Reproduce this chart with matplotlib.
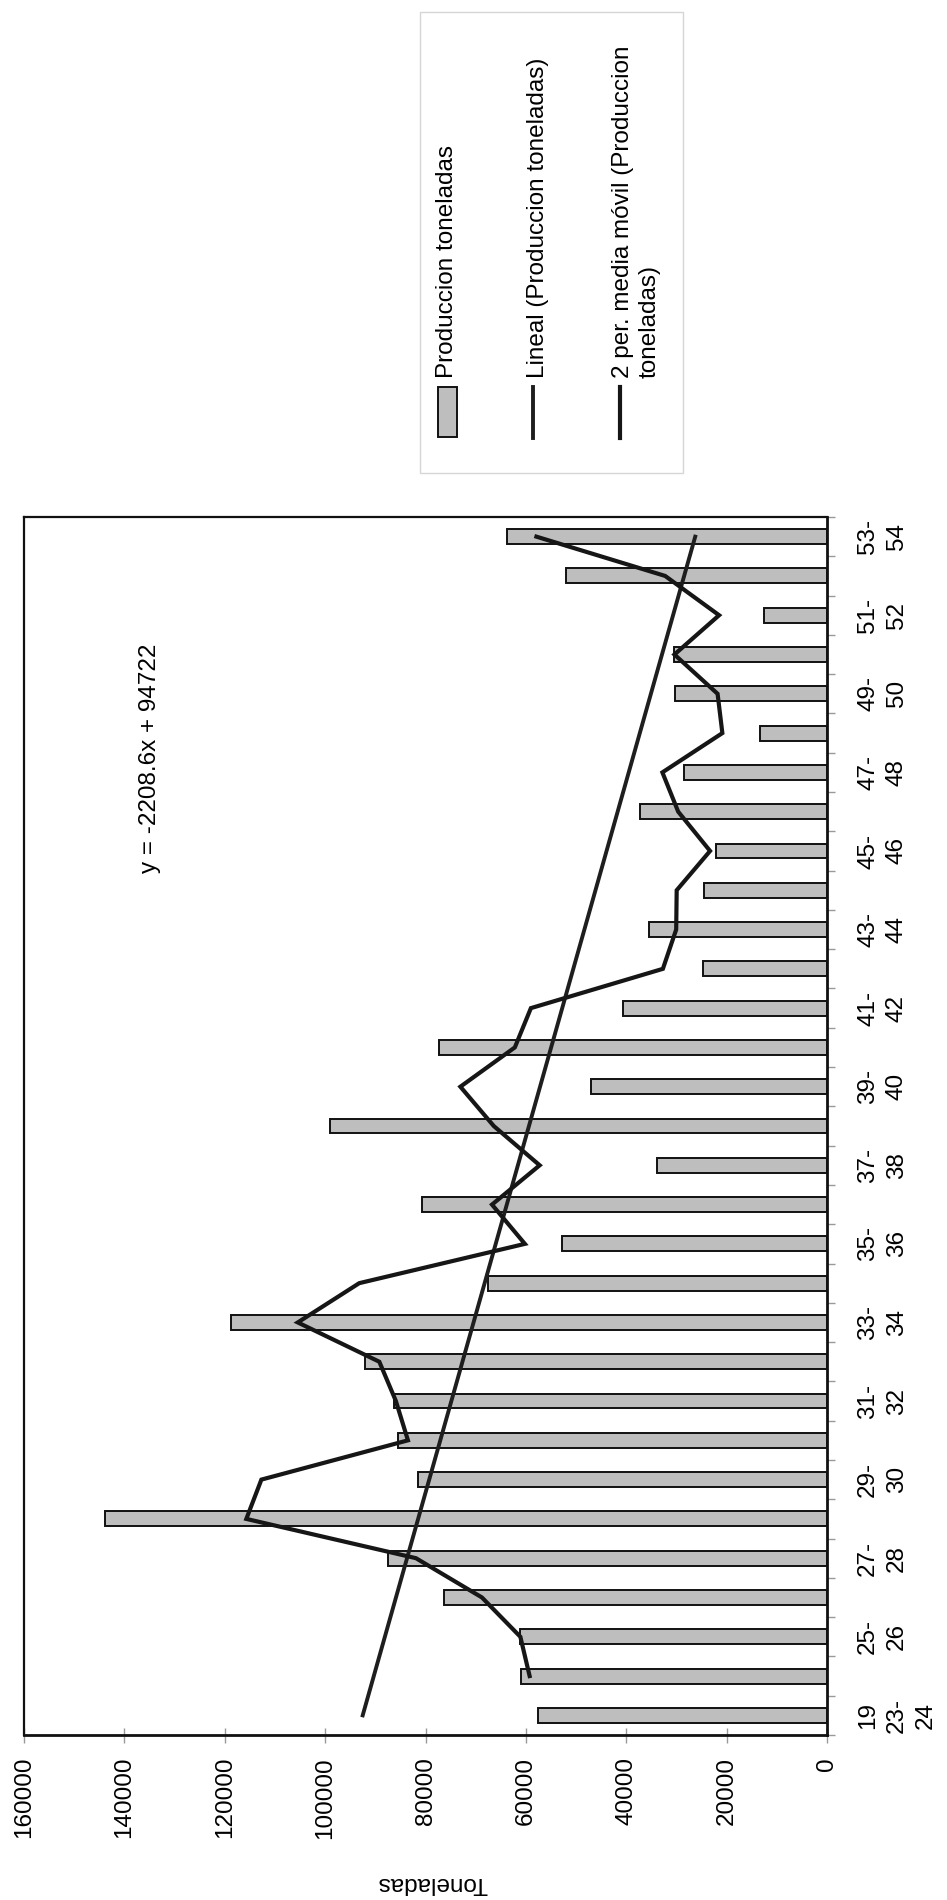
import numpy as np
import pandas as pd
import matplotlib
matplotlib.use('Agg')
import matplotlib.pyplot as plt
from matplotlib.lines import Line2D
from matplotlib.patches import Rectangle

# campañas 1923-24 ... 1953-54
campanas = ['1923-24', '1924-25', '1925-26', '1926-27', '1927-28', '1928-29', '1929-30',
            '1930-31', '1931-32', '1932-33', '1933-34', '1934-35', '1935-36', '1936-37',
            '1937-38', '1938-39', '1939-40', '1940-41', '1941-42', '1942-43', '1943-44',
            '1944-45', '1945-46', '1946-47', '1947-48', '1948-49', '1949-50', '1950-51',
            '1951-52', '1952-53', '1953-54']
etiquetas = ['19\n23-\n24', '24-\n25', '25-\n26', '26-\n27', '27-\n28', '28-\n29', '29-\n30',
             '30-\n31', '31-\n32', '32-\n33', '33-\n34', '34-\n35', '35-\n36', '36-\n37',
             '37-\n38', '38-\n39', '39-\n40', '40-\n41', '41-\n42', '42-\n43', '43-\n44',
             '44-\n45', '45-\n46', '46-\n47', '47-\n48', '48-\n49', '49-\n50', '50-\n51',
             '51-\n52', '52-\n53', '53-\n54']
produccion = [57500, 61000, 61200, 76300, 87500, 143900, 81500, 85500, 86300, 92100,
              118800, 67600, 52800, 80700, 33800, 99000, 47100, 77300, 40700, 24700,
              35400, 24500, 22100, 37200, 28400, 13300, 30300, 30500, 12500, 52000, 63800]
valores_eje = [0, 20000, 40000, 60000, 80000, 100000, 120000, 140000, 160000]

# linea de tendencia (ecuacion del grafico)
pendiente = -2208.6
ordenada = 94722

plt.rcParams['font.family'] = ['Liberation Sans', 'DejaVu Sans']
plt.rcParams['font.size'] = 17.5

W, H = 947, 1900
fig = plt.figure(figsize=(W / 100, H / 100), dpi=100)
ax = fig.add_axes([24 / W, 1 - 1735 / H, (827 - 24) / W, (1735 - 517) / H])

pos = np.arange(len(produccion))
media = pd.Series(produccion, dtype=float).rolling(2).mean()
tendencia = pendiente * (pos + 1) + ordenada

gris_barra = '#bebebe'
ax.barh(pos, produccion, height=0.38, color=gris_barra, edgecolor='#111111',
        linewidth=1.4, zorder=2)
ax.plot(tendencia, pos, color='#1e1e1e', lw=2.8, zorder=3)
ax.plot(media, pos, color='#161616', lw=3.0, zorder=4, solid_joinstyle='miter')

ax.set_xlim(160000, 0)
ax.set_ylim(-0.5, len(produccion) - 0.5)

# eje de valores (abajo, girado)
ax.set_xticks(valores_eje)
ax.set_xticklabels([str(v) for v in valores_eje])
ax.tick_params(axis='x', direction='inout', length=10.8, width=1, color='#999999',
               pad=10.4, labelrotation=90)

# eje de categorias (derecha)
ax.yaxis.tick_right()
ax.set_yticks(pos[::2])
ax.set_yticklabels([etiquetas[i] for i in pos[::2]])
ax.set_yticks(np.arange(-0.5, len(produccion)), minor=True)
ax.tick_params(axis='y', which='major', length=0, pad=21.6, labelrotation=90)
ax.tick_params(axis='y', which='minor', direction='out', length=5.8, width=1,
               color='#999999')
for lab in ax.get_yticklabels():
    lab.set_va('center')
    lab.set_ha('left')
    lab.set_multialignment('center')
    lab.set_linespacing(1.4)

for side, sp in ax.spines.items():
    sp.set_color('#111111')
    sp.set_linewidth(1.6 if side in ('left', 'top') else 2.0)

ax.set_xlabel('Toneladas', rotation=180, va='center')
ax.xaxis.set_label_coords(0.508, -0.1215)

ax.text(0.157, 0.802, f'y = {pendiente}x + {ordenada}', transform=ax.transAxes,
        rotation=90, ha='center', va='center')


# leyenda dibujada a mano (girada)
def fx(px):
    return px / W


def fy(py):
    return 1 - py / H


fig.patches.append(Rectangle((fx(420), fy(473)), 263 / W, 461 / H, transform=fig.transFigure,
                             fill=False, edgecolor='#d6d6d6', lw=1))
fig.patches.append(Rectangle((fx(438), fy(437)), 19 / W, 50 / H, transform=fig.transFigure,
                             facecolor=gris_barra, edgecolor='#111111', lw=1.4))
fig.lines.append(Line2D([fx(533), fx(533)], [fy(387), fy(438)], transform=fig.transFigure,
                        color='#1e1e1e', lw=2.8))
fig.lines.append(Line2D([fx(620), fx(620)], [fy(387), fy(438)], transform=fig.transFigure,
                        color='#161616', lw=3.0))
fig.text(fx(447), fy(378), 'Produccion toneladas', rotation=90, ha='center', va='bottom')
fig.text(fx(538), fy(378), 'Lineal (Produccion toneladas)', rotation=90, ha='center',
         va='bottom')
fig.text(fx(612), fy(378), '2 per. media móvil (Produccion\ntoneladas)', rotation=90,
         ha='left', va='bottom', multialignment='left', linespacing=1.3)

fig.savefig('out.png', dpi=100)
